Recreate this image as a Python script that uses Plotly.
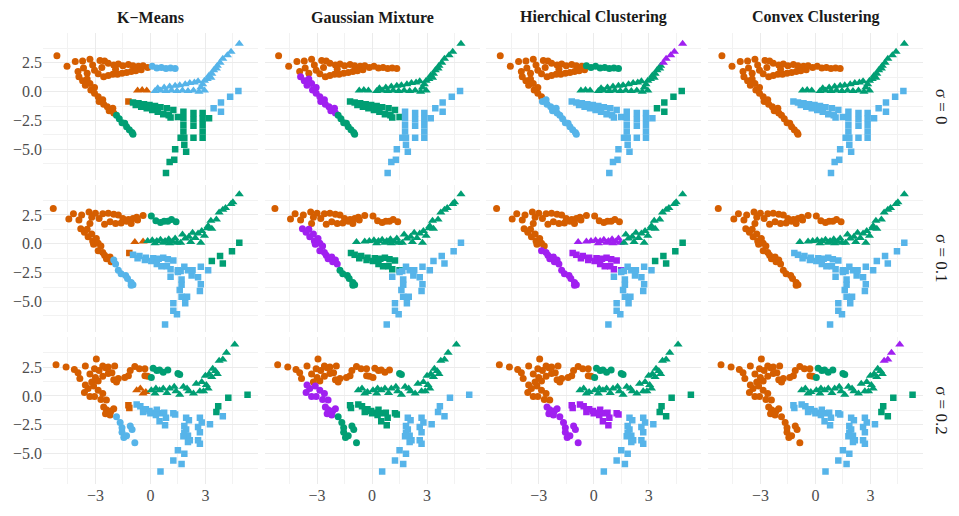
import plotly.graph_objects as go
from plotly.subplots import make_subplots

methods = ["K−Means", "Gaussian Mixture", "Hierchical Clustering", "Convex Clustering"]
sigmas = ["σ = 0", "σ = 0.1", "σ = 0.2"]

palette = {"O": "#D55E00", "G": "#009E73", "B": "#56B4E9", "P": "#A020F0"}

# ---- sigma = 0 : points per true group (shape) ----
circles_0 = [
    (-5.1, 3.1), (-4.55, 2.2), (-4.1, 2.6), (-3.7, 2.65), (-3.65, 2.05), (-3.3, 2.8), (-3.15, 2.3),
    (-3.05, 1.85), (-2.75, 2.7), (-2.5, 2.65), (-2.65, 2.1), (-3.45, 1.6), (-2.85, 1.55), (-3.95, 1.75),
    (-2.3, 2.45), (-2.0, 2.3), (-1.75, 2.4), (-1.5, 2.25), (-1.2, 2.35), (-0.95, 2.25), (-0.65, 2.2),
    (-2.55, 1.3), (-2.3, 1.4), (-2.05, 1.5), (-1.8, 1.5), (-1.55, 1.6), (-1.3, 1.65), (-1.05, 1.75),
    (-0.8, 1.8), (-0.5, 1.9), (-1.9, 1.95),
    (-0.4, 2.25), (-0.15, 2.1), (0.1, 2.2), (0.35, 2.05), (0.6, 2.1), (0.85, 2.0), (1.1, 2.05), (1.35, 2.0),
    (-3.9, 1.3), (-3.7, 0.95), (-3.45, 1.1), (-3.55, 0.55), (-3.3, 0.7), (-3.25, 0.15), (-3.05, 0.35),
    (-3.05, -0.15), (-2.85, -0.45),
    (-2.8, -0.85), (-2.6, -0.7), (-2.55, -1.1), (-2.35, -1.3), (-2.25, -1.65), (-2.05, -1.45), (-2.0, -1.85),
    (-1.85, -2.05), (-1.7, -2.35), (-1.55, -2.7), (-1.4, -2.75), (-1.3, -3.05), (-1.15, -3.3), (-1.0, -3.55),
    (-0.95, -3.7),
]
triangles_0 = [
    (-0.7, 0.1), (-0.45, 0.15), (-0.2, 0.1),
    (0.25, 0.05), (0.55, 0.1), (0.85, 0.05), (1.15, 0.1), (1.45, 0.05), (1.75, 0.1), (2.05, 0.05),
    (2.35, 0.1), (2.65, 0.0), (2.95, 0.1), (0.4, 0.3), (0.75, 0.35), (1.05, 0.45), (1.35, 0.5),
    (1.6, 0.55), (1.9, 0.65), (2.15, 0.75), (2.4, 0.8), (2.6, 0.9), (2.85, 0.65),
    (2.75, 0.35), (2.95, 0.95), (3.1, 1.1), (3.2, 1.4), (3.35, 1.55), (3.45, 1.85), (3.6, 2.0),
    (3.65, 2.25), (3.3, 1.2),
    (3.8, 2.5), (3.95, 2.85), (4.2, 3.15), (4.4, 3.45), (4.85, 4.15),
]
squares_0 = [
    (-1.2, -0.85),
    (-0.95, -0.95), (-0.65, -1.0), (-0.35, -1.1), (-0.05, -1.15), (0.25, -1.25), (0.55, -1.35),
    (0.9, -1.45), (-0.8, -1.15), (-0.5, -1.3), (-0.2, -1.45), (0.1, -1.6), (0.4, -1.75), (0.7, -1.95),
    (1.0, -2.05), (1.25, -1.6), (1.1, -2.25), (1.5, -2.2),
    (1.8, -1.75), (1.8, -2.3), (1.8, -2.9), (1.8, -3.45), (1.65, -4.0), (1.85, -4.0), (2.35, -1.85),
    (2.35, -2.4), (2.35, -2.95), (2.35, -4.0), (2.85, -1.85), (2.85, -2.35), (2.85, -2.9), (2.85, -3.45),
    (2.85, -4.0), (3.2, -2.3), (1.85, -4.6), (1.95, -5.2), (1.35, -5.0), (1.3, -5.9), (1.05, -6.1),
    (0.85, -7.05),
    (3.45, -1.45), (3.85, -0.95), (3.85, -1.75), (4.35, -0.45), (4.8, 0.05),
]

# ---- sigma = 0.1 ----
circles_1 = [
    (-5.3, 3.05), (-4.45, 2.15), (-4.2, 2.6), (-3.75, 2.5), (-3.9, 2.05), (-3.35, 2.75), (-3.2, 2.3),
    (-3.0, 2.65), (-2.8, 2.2), (-2.6, 2.6), (-2.3, 2.65), (-2.0, 2.55), (-1.75, 2.5), (-1.5, 2.2),
    (-1.2, 2.1), (-0.95, 2.2), (-0.7, 2.05), (-0.4, 2.45), (-2.5, 1.7), (-2.2, 1.9), (-1.9, 1.75),
    (-1.6, 1.8), (-1.3, 1.95), (-1.05, 1.75), (-0.75, 2.3), (-3.3, 1.75),
    (0.05, 2.4), (0.3, 2.0), (0.55, 1.85), (0.75, 1.95), (0.95, 1.95), (1.15, 2.1), (1.4, 1.9),
    (-3.8, 1.3), (-3.6, 1.0), (-3.45, 1.25), (-3.4, 0.6), (-3.2, 0.85), (-3.15, 0.25), (-2.95, 0.45),
    (-3.1, -0.05), (-2.85, 0.05), (-2.7, -0.2),
    (-2.85, -0.6), (-2.6, -0.75), (-2.5, -1.0), (-2.4, -1.3), (-2.2, -1.15), (-2.15, -1.55),
    (-2.0, -1.4), (-1.9, -1.75),
    (-1.75, -2.3), (-1.6, -2.6), (-1.35, -2.75), (-1.25, -3.0), (-1.05, -3.35), (-0.95, -3.55),
    (-1.05, -3.6),
]
triangles_1 = [
    (-0.85, 0.15), (-0.4, 0.2),
    (-0.15, 0.25), (0.1, 0.3), (0.35, 0.25), (0.55, 0.35), (0.8, 0.25), (1.0, 0.4), (1.2, 0.2),
    (1.35, 0.45), (0.25, 0.05), (0.7, 0.1), (1.05, 0.05), (1.45, 0.1),
    (1.75, 0.8), (1.65, 0.1), (1.9, 0.45), (2.1, 0.6), (2.2, 0.15), (2.45, 0.5), (2.6, 0.9),
    (2.75, 0.1), (2.8, 1.1), (2.95, 0.7), (3.1, 1.35), (3.15, 1.55), (3.35, 1.3), (3.3, 2.0),
    (3.6, 2.1), (3.75, 2.7), (3.95, 2.95), (4.1, 3.1), (4.4, 3.45), (4.5, 3.6), (4.85, 4.3),
    (2.3, 0.95),
]
squares_1 = [
    (-1.15, -0.8),
    (-0.95, -0.95), (-0.6, -1.05), (-0.25, -1.2), (0.15, -1.25), (0.45, -1.3), (0.7, -1.2),
    (0.95, -1.35), (-0.7, -1.25), (-0.3, -1.4), (0.05, -1.5), (0.35, -1.75), (0.6, -1.95),
    (0.9, -1.95), (1.25, -1.45), (1.1, -2.2), (1.5, -2.3),
    (1.65, -2.35), (1.1, -2.85), (1.5, -2.45), (1.85, -2.0), (2.05, -2.3), (2.3, -2.3), (2.25, -2.75),
    (2.75, -2.0), (2.6, -2.9), (2.75, -3.5), (2.7, -4.1), (3.15, -2.3), (1.7, -3.1), (1.7, -3.55),
    (1.6, -4.0), (1.7, -4.6), (2.0, -4.6), (1.9, -5.15), (1.25, -5.15), (1.25, -5.8), (1.45, -6.1),
    (0.8, -7.0),
    (3.35, -1.5), (3.8, -1.05), (3.95, -1.7), (4.45, -0.65), (4.85, 0.1),
]

# ---- sigma = 0.2 ----
circles_2 = [
    (-5.15, 2.7), (-4.6, 2.5), (-4.15, 2.3), (-3.95, 2.0), (-3.85, 1.5), (-3.55, 2.6), (-3.3, 1.9),
    (-2.95, 3.2), (-3.05, 2.35), (-2.8, 2.2), (-2.6, 2.6), (-2.45, 2.45), (-2.3, 2.5), (-3.0, 1.6),
    (-2.85, 1.3), (-3.2, 1.2), (-2.6, 1.7), (-2.3, 1.95), (-2.1, 2.0), (-1.95, 2.6), (-1.85, 1.2),
    (-1.75, 1.5), (-1.4, 1.6), (-1.2, 1.75), (-1.1, 2.2), (-0.85, 2.55), (-0.6, 2.35), (-0.3, 2.35),
    (-0.3, 1.75), (-0.15, 1.7), (-2.0, 1.4),
    (0.05, 1.6), (0.15, 2.4), (0.35, 2.2), (0.5, 2.25), (0.7, 2.05), (0.95, 2.25), (1.5, 1.95), (1.6, 1.85),
    (-3.4, 0.65), (-3.3, -0.05), (-3.05, -0.05), (-2.85, 0.5), (-2.6, 0.2), (-2.4, -0.35), (-3.55, 0.95),
    (-3.1, 0.85), (-2.7, -0.3), (-3.6, 0.3),
    (-2.55, -0.95), (-2.4, -1.2), (-2.3, -1.35), (-2.45, -1.55), (-2.15, -1.3), (-2.0, -1.1), (-2.2, -1.65),
    (-1.85, -1.8), (-1.65, -2.3), (-1.55, -2.75), (-1.55, -3.15), (-1.3, -3.45), (-1.1, -2.6),
    (-1.0, -2.9), (-1.45, -3.6), (-0.85, -4.05),
]
triangles_2 = [
    (-0.75, 0.5), (-0.55, 0.65), (-0.4, 0.2), (-0.25, 0.35),
    (0.05, 0.5), (0.3, 0.65), (0.5, 0.5), (0.7, 0.65), (0.9, 0.25), (1.05, 0.65), (1.3, 0.8), (1.6, 0.1),
    (1.8, 0.8), (2.0, 0.65), (2.1, 0.4), (2.5, 1.05), (2.7, 0.4), (2.9, 0.4), (3.15, 0.65), (2.8, 1.2),
    (3.05, 0.95), (0.25, 0.2), (1.4, 0.4), (2.35, 0.2),
    (3.35, 1.65), (3.4, 2.35), (3.2, 1.9), (3.65, 1.9), (3.0, 1.75), (3.55, 2.15),
    (3.75, 3.05), (3.95, 3.15), (4.15, 3.75), (4.6, 4.45),
]
squares_2 = [
    (-1.2, -0.8), (-1.15, -1.05),
    (-0.75, -0.75), (-0.55, -0.9), (-0.25, -1.15), (-0.05, -1.3), (0.15, -1.45), (0.35, -1.2),
    (0.55, -1.5), (0.75, -1.45), (1.25, -1.5), (-0.4, -1.4), (0.0, -1.5), (0.3, -1.65), (0.5, -2.2),
    (0.85, -1.9), (1.35, -1.6), (0.8, -2.55),
    (1.95, -1.9), (2.1, -2.1), (1.85, -2.6), (1.95, -2.9), (1.85, -3.2), (2.05, -3.45), (1.8, -3.5),
    (2.15, -3.85), (2.05, -4.0), (2.7, -1.9), (2.8, -2.3), (2.6, -2.7), (2.7, -3.15), (2.6, -3.85),
    (2.7, -4.15), (3.25, -2.45), (1.5, -4.7), (1.85, -5.0), (1.25, -5.6), (1.7, -5.9), (0.55, -6.55),
    (3.6, -1.4), (3.7, -0.9), (4.25, -0.15), (5.3, 0.1),
    (3.95, -1.75),
]

# ---- cluster labels per method (K-Means, GMM, Hierarchical, Convex), run-length coded ----
circles_0_lab = [[("O", 33), ("B", 6), ("O", 16), ("G", 8)],
                 [("O", 39), ("P", 16), ("G", 8)],
                 [("O", 31), ("G", 8), ("O", 9), ("B", 15)],
                 [("O", 63)]]
triangles_0_lab = [[("O", 3), ("B", 34)], [("G", 37)], [("G", 32), ("P", 5)], [("G", 37)]]
squares_0_lab = [[("O", 1), ("G", 39), ("B", 5)], [("G", 18), ("B", 27)],
                 [("B", 40), ("G", 5)], [("B", 45)]]

circles_1_lab = [[("O", 26), ("G", 7), ("O", 16), ("B", 9)],
                 [("O", 33), ("P", 18), ("G", 7)],
                 [("O", 43), ("P", 15)],
                 [("O", 58)]]
triangles_1_lab = [[("O", 2), ("G", 34)], [("G", 36)], [("P", 14), ("G", 22)], [("G", 36)]]
squares_1_lab = [[("O", 1), ("B", 38), ("G", 5)], [("G", 17), ("B", 27)],
                 [("P", 17), ("B", 22), ("G", 5)], [("B", 44)]]

circles_2_lab = [[("O", 31), ("G", 8), ("O", 17), ("B", 9)],
                 [("O", 37), ("G", 2), ("P", 17), ("G", 9)],
                 [("O", 31), ("G", 8), ("O", 10), ("P", 16)],
                 [("O", 31), ("G", 8), ("O", 26)]]
triangles_2_lab = [[("O", 4), ("G", 30)], [("G", 34)], [("G", 34)], [("G", 30), ("P", 4)]]
squares_2_lab = [[("O", 2), ("B", 37), ("G", 4), ("B", 1)], [("G", 18), ("B", 26)],
                 [("P", 18), ("B", 21), ("G", 5)], [("B", 39), ("G", 5)]]

rows = [
    [(circles_0, circles_0_lab), (triangles_0, triangles_0_lab), (squares_0, squares_0_lab)],
    [(circles_1, circles_1_lab), (triangles_1, triangles_1_lab), (squares_1, squares_1_lab)],
    [(circles_2, circles_2_lab), (triangles_2, triangles_2_lab), (squares_2, squares_2_lab)],
]
symbols = [("circle", 7), ("triangle-up", 8), ("square", 6.5)]


def colours(runs, n):
    out = [palette[k] for k, m in runs for _ in range(m)]
    assert len(out) == n, (len(out), n)
    return out


fig = make_subplots(rows=3, cols=4, horizontal_spacing=0.00758, vertical_spacing=0.0121)

for r, shapes in enumerate(rows):
    for c in range(4):
        for (pts, lab), (sym, size) in zip(shapes, symbols):
            fig.add_trace(go.Scatter(
                x=[p[0] for p in pts], y=[p[1] for p in pts], mode="markers",
                marker=dict(symbol=sym, size=size, color=colours(lab[c], len(pts)), line=dict(width=0)),
                showlegend=False, hoverinfo="skip"), row=r + 1, col=c + 1)

serif = "Liberation Serif"
fig.update_xaxes(range=[-5.86, 5.87], tickvals=[-3, 0, 3], showgrid=True, gridcolor="#EBEBEB",
                 gridwidth=1.1, zeroline=False, showline=False, ticks="", showticklabels=False,
                 minor=dict(tickvals=[-4.5, -1.5, 1.5, 4.5], showgrid=True, gridcolor="#F2F2F2", gridwidth=0.7))
fig.update_yaxes(range=[-7.63, 5.08], tickvals=[-5, -2.5, 0, 2.5], tickformat=".1f", showgrid=True,
                 gridcolor="#EBEBEB", gridwidth=1.1, zeroline=False, showline=False, ticks="",
                 showticklabels=False,
                 minor=dict(tickvals=[-6.25, -3.75, -1.25, 1.25, 3.75], showgrid=True,
                            gridcolor="#F2F2F2", gridwidth=0.7))
fig.update_xaxes(showticklabels=True, row=3)
fig.update_yaxes(showticklabels=True, col=1)
fig.for_each_xaxis(lambda a: a.update(tickfont=dict(family=serif, size=16, color="#4D4D4D")))
fig.for_each_yaxis(lambda a: a.update(tickfont=dict(family=serif, size=16, color="#4D4D4D")))


def axis(name, idx):
    return fig.layout[name if idx == 1 else "%s%d" % (name, idx)]


for c, m in enumerate(methods):
    d = axis("xaxis", c + 1).domain
    fig.add_annotation(text="<b>%s</b>" % m, x=(d[0] + d[1]) / 2, y=1, xref="paper", yref="paper",
                       xanchor="center", yanchor="bottom", yshift=5, showarrow=False,
                       font=dict(family=serif, size=16, color="#1A1A1A"))
for r, s in enumerate(sigmas):
    d = axis("yaxis", r * 4 + 1).domain
    fig.add_annotation(text=s, x=1, y=(d[0] + d[1]) / 2, xref="paper", yref="paper",
                       xanchor="left", yanchor="middle", xshift=7, textangle=90, showarrow=False,
                       font=dict(family=serif, size=17, color="#1A1A1A"))

fig.update_layout(width=959, height=516, margin=dict(l=43, r=36, t=33, b=28),
                  font=dict(family=serif, size=16, color="#4D4D4D"),
                  plot_bgcolor="white", paper_bgcolor="white")
fig.write_html("out.html", config={"displayModeBar": False},
               post_script="document.body.style.margin='0';")
